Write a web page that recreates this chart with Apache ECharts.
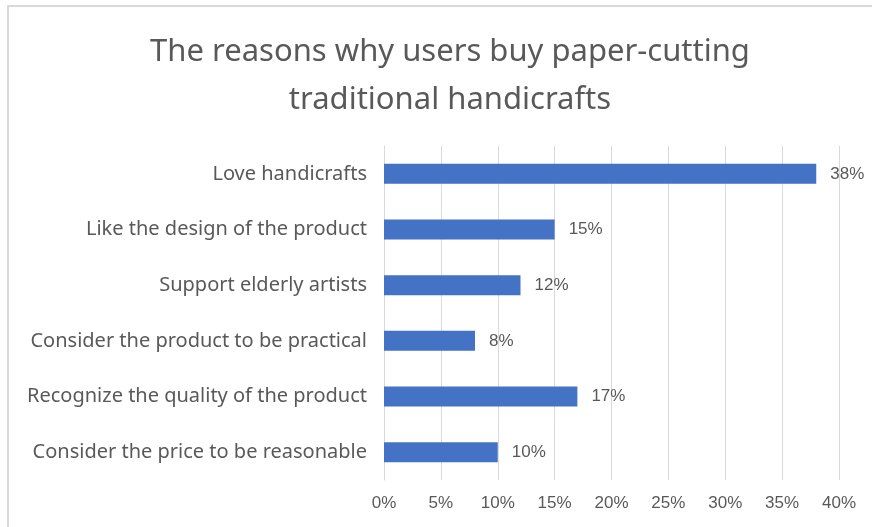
<!DOCTYPE html>
<html><head><meta charset="utf-8">
<script src="https://cdn.jsdelivr.net/npm/echarts@6/dist/echarts.min.js"></script>
<style>html,body{margin:0;padding:0;background:#fff}#c{width:872px;height:527px}</style>
</head><body><div id="c"></div>
<script>
const titleText = "The reasons why users buy paper-cutting\ntraditional handicrafts";
const categories = [
  "Love handicrafts",
  "Like the design of the product",
  "Support elderly artists",
  "Consider the product to be practical",
  "Recognize the quality of the product",
  "Consider the price to be reasonable"
];
const values = [38, 15, 12, 8, 17, 10];
const xTicks = [0, 5, 10, 15, 20, 25, 30, 35, 40];

const chart = echarts.init(document.getElementById('c'), null, {renderer:'canvas'});
chart.setOption({
  backgroundColor: '#fff',
  animation: false,
  title: {
    text: titleText,
    left: 445, top: 23, textAlign: 'center',
    textStyle: {fontFamily: 'Noto Sans', fontWeight: 'normal', fontSize: 31, color: '#595959', lineHeight: 48}
  },
  graphic: [{
    type: 'rect', shape: {x: 8, y: 6, width: 900, height: 600},
    style: {fill: 'none', stroke: '#d9d9d9', lineWidth: 2}, silent: true
  }],
  grid: {left: 384, right: 33, top: 146, bottom: 47, containLabel: false},
  xAxis: {
    type: 'value', min: xTicks[0], max: xTicks[xTicks.length-1], interval: 5,
    axisLabel: {formatter: v => v + '%', color: '#595959', fontSize: 17, fontFamily: 'Liberation Sans Narrow, Liberation Sans, sans-serif', margin: 15},
    axisLine: {show: false}, axisTick: {show: false},
    splitLine: {show: true, lineStyle: {color: '#d9d9d9', width: 1}}
  },
  yAxis: {
    type: 'category', inverse: true, data: categories,
    axisLabel: {color: '#595959', fontSize: 20, fontFamily: 'Noto Sans', margin: 17},
    axisLine: {show: true, lineStyle: {color: '#d9d9d9', width: 1}},
    axisTick: {show: false}
  },
  series: [{
    type: 'bar', data: values, barWidth: 20,
    itemStyle: {color: '#4472C4'},
    label: {show: true, position: 'right', distance: 14, formatter: p => p.value + '%',
      color: '#595959', fontSize: 17, fontFamily: 'Liberation Sans Narrow, Liberation Sans, sans-serif'}
  }]
});
</script></body></html>
